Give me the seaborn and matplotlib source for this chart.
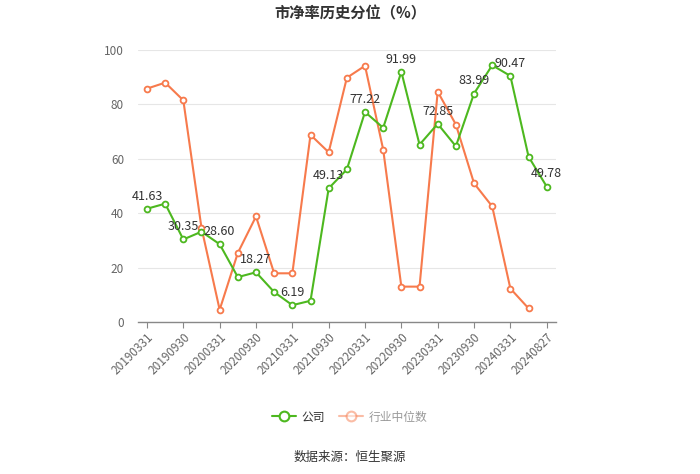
import numpy as np
import pandas as pd
import matplotlib
matplotlib.use("Agg")
import matplotlib.pyplot as plt
import seaborn as sns
from matplotlib.lines import Line2D

dates = ["20190331", "20190630", "20190930", "20191231",
         "20200331", "20200630", "20200930", "20201231",
         "20210331", "20210630", "20210930", "20211231",
         "20220331", "20220630", "20220930", "20221231",
         "20230331", "20230630", "20230930", "20231231",
         "20240331", "20240630", "20240827"]
company = [41.63, 43.5, 30.35, 33.2, 28.60, 16.5, 18.27, 11.0, 6.19, 7.8,
           49.13, 56.1, 77.22, 71.4, 91.99, 65.2, 72.85, 64.6, 83.99, 94.4,
           90.47, 60.8, 49.78]
industry = [85.8, 88.0, 81.5, 34.6, 4.5, 25.4, 38.8, 17.9, 17.9, 68.8,
            62.4, 89.8, 94.2, 63.4, 13.0, 13.0, 84.7, 72.6, 51.0, 42.5,
            12.3, 5.0, np.nan]
label_idx = [0, 2, 4, 6, 8, 10, 12, 14, 16, 18, 20, 22]

sns.set_theme(style="white")
plt.rcParams['font.family'] = ['Noto Sans CJK SC', 'DejaVu Sans']

GREEN = '#4db81f'
ORANGE = '#f77a4c'

df = pd.DataFrame({"idx": np.arange(len(dates)), "company": company, "industry": industry})

fig = plt.figure(figsize=(7, 4.74), dpi=100)
ax = fig.add_axes([0.197, 0.3207, 0.597, 0.5738])

mk = dict(marker='o', markersize=4.2, markerfacecolor='white', markeredgewidth=1.3)
sns.lineplot(data=df, x="idx", y="industry", ax=ax, color=ORANGE, linewidth=1.5,
             markeredgecolor=ORANGE, **mk)
sns.lineplot(data=df, x="idx", y="company", ax=ax, color=GREEN, linewidth=1.5,
             markeredgecolor=GREEN, **mk)

for i in label_idx:
    ax.annotate(f"{company[i]:.2f}", (i, company[i]), xytext=(0, 4.5),
                textcoords='offset points', ha='center', va='bottom',
                fontsize=9, color='#333333')

ax.set_xlim(-0.5, len(dates) - 0.5)
ax.set_ylim(0, 100)
ax.set_yticks([0, 20, 40, 60, 80, 100])
ax.set_xticks(label_idx)
ax.set_xticklabels([dates[i] for i in label_idx], rotation=45, ha='right',
                   rotation_mode='anchor', fontsize=8.5, color='#666666')
ax.tick_params(axis='y', labelsize=8.5, labelcolor='#666666', length=0, pad=10)
ax.tick_params(axis='x', length=4, width=0.8, color='#888888', direction='out', pad=2, bottom=True)
ax.set_xlabel("")
ax.set_ylabel("")
ax.grid(axis='y', color='#e6e6e6', linewidth=0.8)
ax.grid(axis='x', visible=False)
for s in ['top', 'right', 'left']:
    ax.spines[s].set_visible(False)
ax.spines['bottom'].set_color('#888888')
ax.spines['bottom'].set_linewidth(1.0)

fig.text(0.5, 0.972, "市净率历史分位（%）", ha='center', va='center',
         fontsize=11, fontweight='bold', color='#333333')

handles = [Line2D([0], [0], color=GREEN, linewidth=1.5, marker='o', markersize=7,
                  markerfacecolor='white', markeredgecolor=GREEN, markeredgewidth=1.5),
           Line2D([0], [0], color=ORANGE, linewidth=1.5, marker='o', markersize=7,
                  markerfacecolor='white', markeredgecolor=ORANGE, markeredgewidth=1.5, alpha=0.5)]
leg = fig.legend(handles, ["公司", "行业中位数"], loc='center', bbox_to_anchor=(0.5, 0.12),
                 ncol=2, frameon=False, fontsize=8.5, handlelength=2.0, columnspacing=1.2,
                 handletextpad=0.5)
leg.get_texts()[0].set_color('#333333')
leg.get_texts()[1].set_color('#999999')

fig.text(0.5, 0.035, "数据来源：恒生聚源", ha='center', va='center', fontsize=9, color='#333333')

fig.savefig("out.png", dpi=100)
